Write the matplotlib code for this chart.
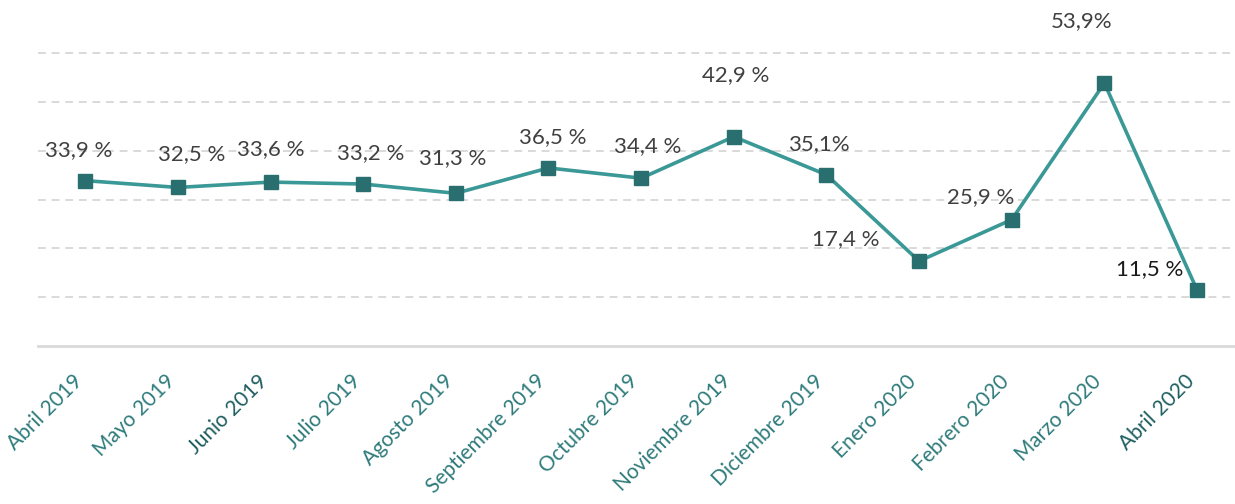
import numpy as np
import matplotlib.pyplot as plt
import matplotlib.transforms as mtransforms

meses = ["Abril 2019", "Mayo 2019", "Junio 2019", "Julio 2019", "Agosto 2019",
         "Septiembre 2019", "Octubre 2019", "Noviembre 2019", "Diciembre 2019",
         "Enero 2020", "Febrero 2020", "Marzo 2020", "Abril 2020"]
valores = [33.9, 32.5, 33.6, 33.2, 31.3, 36.5, 34.4, 42.9, 35.1, 17.4, 25.9, 53.9, 11.5]
etiquetas = ["33,9 %", "32,5 %", "33,6 %", "33,2 %", "31,3 %", "36,5 %", "34,4 %",
             "42,9 %", "35,1%", "17,4 %", "25,9 %", "53,9%", "11,5 %"]

# desplazamiento de las etiquetas (pixeles)
dx = [-7, 14, 0, 7, -3, 4, 7, 2, -8, -73, -31, -23, -47]
dy = [31, 33, 33, 31, 35, 31, 32, 62, 31, 22, 23, 62, 21]

plt.rcParams['font.family'] = ['Lato', 'DejaVu Sans']

fig = plt.figure(figsize=(12.35, 5.04), dpi=100)
ax = fig.add_axes([0.031, 0.3135, 0.969, 0.6485])

x = np.arange(len(meses))
ax.plot(x, valores, color='#3a9896', lw=2.6, zorder=3)
ax.plot(x, valores, ls='none', marker='s', ms=9.5, color='#2a6f70', zorder=4)

for i, v in enumerate(valores):
    col = '#1a1a1a' if i == 12 else '#404040'
    ax.annotate(etiquetas[i], (x[i], v), xytext=(dx[i], dy[i]), textcoords='offset pixels',
                ha='center', va='center', fontsize=16, color=col,
                annotation_clip=False)

ax.set_xlim(-0.507, 12.41)
ax.set_ylim(0, 67)
ax.set_yticks([10, 20, 30, 40, 50, 60])
ax.yaxis.grid(True, ls=(0, (4, 3)), color='#d9d9d9', lw=1.4)
ax.set_axisbelow(True)
ax.tick_params(axis='y', left=False, labelleft=False)
ax.tick_params(axis='x', length=0, pad=18)
for s in ['top', 'right', 'left']:
    ax.spines[s].set_visible(False)
ax.spines['bottom'].set_color('#d9d9d9')
ax.spines['bottom'].set_linewidth(2)

ax.set_xticks(x)
ax.set_xticklabels(meses, rotation=45, ha='right', rotation_mode='anchor',
                   fontsize=15)
desplaza = mtransforms.ScaledTranslation(-0.13, 0, fig.dpi_scale_trans)
for i, t in enumerate(ax.get_xticklabels()):
    t.set_color('#1f5e60' if i in (2, 12) else '#2f7b7b')
    t.set_transform(t.get_transform() + desplaza)

fig.savefig('out.png', dpi=100)
